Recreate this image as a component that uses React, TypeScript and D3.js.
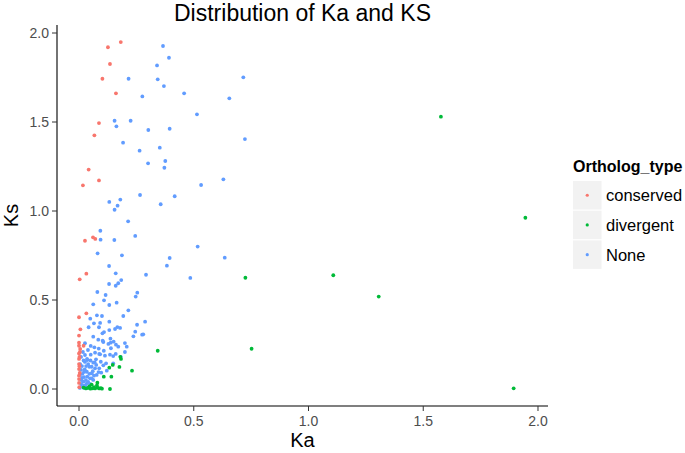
import React from "react";
import * as d3 from "d3";

const categories = ["conserved", "divergent", "None"];
const colors = ["#F8766D", "#00BA38", "#619CFF"];

// [Ka, Ks]
const conserved: [number, number][] = [
  [0.126, 1.92], [0.182, 1.949], [0.135, 1.826], [0.102, 1.743], [0.161, 1.661],
  [0.087, 1.494], [0.067, 1.425], [0.042, 1.233], [0.087, 1.172], [0.017, 1.144],
  [0.026, 0.833], [0.061, 0.852], [0.071, 0.843], [0.032, 0.648], [0.003, 0.616],
  [0.032, 0.425], [0.0, 0.403], [0.006, 0.335], [0.0, 0.243], [0.02, 0.243],
  [0.004, 0.208], [0.0, 0.169], [0.0, 0.112], [0.0, 0.056], [0.0, 0.034],
  [0.0, 0.2], [0.002, 0.18], [0.0, 0.14], [0.003, 0.09], [0.0, 0.075],
  [0.001, 0.01], [0.0, 0.26], [0.005, 0.225], [0.002, 0.128], [0.0, 0.3],
];

const divergent: [number, number][] = [
  [1.577, 1.53], [1.945, 0.962], [1.108, 0.639], [1.306, 0.519], [1.894, 0.004],
  [0.725, 0.625], [0.343, 0.215], [0.752, 0.226], [0.135, 0.0], [0.18, 0.181],
  [0.183, 0.169], [0.147, 0.135], [0.176, 0.124], [0.132, 0.12], [0.231, 0.103],
  [0.108, 0.069], [0.141, 0.069],
  [0.03, 0.003], [0.04, 0.006], [0.05, 0.002], [0.06, 0.004], [0.065, 0.01],
  [0.07, 0.003], [0.078, 0.02], [0.08, 0.035], [0.08, 0.008], [0.088, 0.003],
  [0.095, 0.005], [0.1, 0.002], [0.02, 0.008], [0.045, 0.015], [0.055, 0.025],
];

const none: [number, number][] = [
  [0.366, 1.927], [0.392, 1.861], [0.34, 1.818], [0.216, 1.743], [0.343, 1.74],
  [0.37, 1.702], [0.716, 1.751], [0.458, 1.661], [0.276, 1.644], [0.655, 1.633],
  [0.514, 1.543], [0.155, 1.507], [0.225, 1.507], [0.163, 1.476], [0.302, 1.455],
  [0.395, 1.462], [0.723, 1.404], [0.192, 1.384], [0.264, 1.339], [0.352, 1.356],
  [0.301, 1.268], [0.376, 1.281], [0.372, 1.243], [0.629, 1.178], [0.532, 1.146],
  [0.266, 1.09], [0.417, 1.083], [0.356, 1.038], [0.18, 1.064], [0.132, 1.051],
  [0.168, 1.03], [0.155, 1.007], [0.214, 0.942], [0.093, 0.889], [0.094, 0.839],
  [0.154, 0.837], [0.245, 0.86], [0.517, 0.8], [0.635, 0.738], [0.485, 0.624],
  [0.081, 0.762], [0.187, 0.751], [0.395, 0.736], [0.383, 0.693], [0.131, 0.691],
  [0.16, 0.65], [0.292, 0.642], [0.184, 0.612], [0.171, 0.594], [0.131, 0.59],
  [0.16, 0.58], [0.08, 0.545], [0.254, 0.541], [0.116, 0.528], [0.247, 0.519],
  [0.109, 0.498], [0.164, 0.485], [0.062, 0.476], [0.132, 0.472], [0.215, 0.442],
  [0.078, 0.414], [0.1, 0.41], [0.193, 0.41], [0.049, 0.395],
  [0.132, 0.378], [0.288, 0.378], [0.065, 0.369], [0.092, 0.371], [0.253, 0.361],
  [0.042, 0.347], [0.167, 0.348], [0.157, 0.337], [0.132, 0.331], [0.245, 0.322],
  [0.109, 0.32], [0.28, 0.307], [0.062, 0.294], [0.137, 0.283], [0.237, 0.296],
  [0.084, 0.277], [0.106, 0.264], [0.151, 0.266], [0.2, 0.258], [0.026, 0.257],
  [0.067, 0.234], [0.128, 0.253], [0.161, 0.249], [0.086, 0.227], [0.139, 0.229],
  [0.108, 0.215], [0.2, 0.208], [0.07, 0.204], [0.16, 0.197], [0.092, 0.195],
  [0.113, 0.187], [0.051, 0.193], [0.035, 0.169], [0.068, 0.15], [0.106, 0.133],
  [0.045, 0.125],
  [0.087, 0.347], [0.179, 0.343], [0.102, 0.313], [0.275, 0.305], [0.103, 0.271],
  [0.138, 0.26], [0.208, 0.238], [0.171, 0.238], [0.051, 0.242], [0.039, 0.219],
  [0.088, 0.197], [0.135, 0.193], [0.149, 0.185], [0.182, 0.181], [0.074, 0.167],
  [0.062, 0.148], [0.095, 0.153], [0.118, 0.144], [0.149, 0.144], [0.036, 0.163],
  [0.07, 0.116], [0.088, 0.116], [0.121, 0.103], [0.034, 0.097], [0.055, 0.088],
  [0.077, 0.079], [0.097, 0.092], [0.036, 0.069], [0.048, 0.06], [0.062, 0.051],
  [0.019, 0.041], [0.034, 0.032], [0.048, 0.028], [0.019, 0.013], [0.004, 0.006],
  [0.009, 0.028], [0.013, 0.062], [0.022, 0.096], [0.013, 0.129], [0.026, 0.152],
  [0.009, 0.18], [0.017, 0.208], [0.026, 0.191], [0.031, 0.129], [0.004, 0.079],
  [0.022, 0.067], [0.009, 0.107], [0.035, 0.006], [0.022, 0.006],
  [0.015, 0.02], [0.03, 0.05], [0.04, 0.04], [0.055, 0.06], [0.045, 0.085],
  [0.06, 0.1], [0.025, 0.11], [0.04, 0.14], [0.055, 0.125], [0.075, 0.135],
  [0.01, 0.05], [0.028, 0.02], [0.065, 0.075], [0.02, 0.16], [0.005, 0.14],
  [0.05, 0.16], [0.085, 0.095], [0.015, 0.085],
];

const xTicks = [0, 0.5, 1.0, 1.5, 2.0];
const yTicks = [0, 0.5, 1.0, 1.5, 2.0];

const W = 685;
const H = 453;
const FONT = "'Liberation Sans', Arial, Helvetica, sans-serif";

export default function App() {
  const left = 57, right = 548, top = 25, bottom = 406;
  const x = d3.scaleLinear().domain([-0.0959, 2.0436]).range([left, right]);
  const y = d3.scaleLinear().domain([-0.0955, 2.045]).range([bottom, top]);
  const series = [
    { name: "None", data: none, color: colors[2] },
    { name: "conserved", data: conserved, color: colors[0] },
    { name: "divergent", data: divergent, color: colors[1] },
  ];
  const fmt = d3.format(".1f");
  const legendX = 573, legendY = 181, keySize = 28.5;
  return (
    <svg width={W} height={H} style={{ display: "block", position: "absolute", left: 0, top: 0 }} fontFamily={FONT}>
      <rect width={W} height={H} fill="#fff" />
      <text x={(left + right) / 2} y={21} textAnchor="middle" fontSize={23} fill="#000">
        Distribution of Ka and KS
      </text>
      {series.map((s) =>
        s.data.map((d, i) => (
          <circle key={s.name + i} cx={x(d[0])} cy={y(d[1])} r={1.9} fill={s.color} />
        ))
      )}
      <line x1={left} x2={left} y1={top} y2={bottom} stroke="#000" strokeWidth={1.1} />
      <line x1={left} x2={right} y1={bottom} y2={bottom} stroke="#000" strokeWidth={1.1} />
      {xTicks.map((t) => (
        <g key={"x" + t}>
          <line x1={x(t)} x2={x(t)} y1={bottom} y2={bottom + 5} stroke="#333" strokeWidth={1} />
          <text x={x(t)} y={bottom + 20} textAnchor="middle" fontSize={14} fill="#4d4d4d">
            {fmt(t)}
          </text>
        </g>
      ))}
      {yTicks.map((t) => (
        <g key={"y" + t}>
          <line x1={left - 5} x2={left} y1={y(t)} y2={y(t)} stroke="#333" strokeWidth={1} />
          <text x={left - 8} y={y(t) + 5} textAnchor="end" fontSize={14} fill="#4d4d4d">
            {fmt(t)}
          </text>
        </g>
      ))}
      <text x={(left + right) / 2} y={447} textAnchor="middle" fontSize={20} fill="#000">
        Ka
      </text>
      <text transform={`translate(18,${(top + bottom) / 2}) rotate(-90)`} textAnchor="middle" fontSize={20} fill="#000">
        Ks
      </text>
      <text x={legendX} y={172} fontSize={16} fontWeight="bold" fill="#000">
        Ortholog_type
      </text>
      {categories.map((c, i) => (
        <g key={c}>
          <rect x={legendX} y={legendY + i * (keySize + 1.2)} width={keySize} height={keySize} fill="#f2f2f2" />
          <circle cx={legendX + keySize / 2} cy={legendY + i * (keySize + 1.2) + keySize / 2} r={1.6} fill={colors[i]} />
          <text x={606} y={legendY + i * (keySize + 1.2) + keySize / 2 + 6} fontSize={16.5} fill="#000">
            {c}
          </text>
        </g>
      ))}
    </svg>
  );
}
